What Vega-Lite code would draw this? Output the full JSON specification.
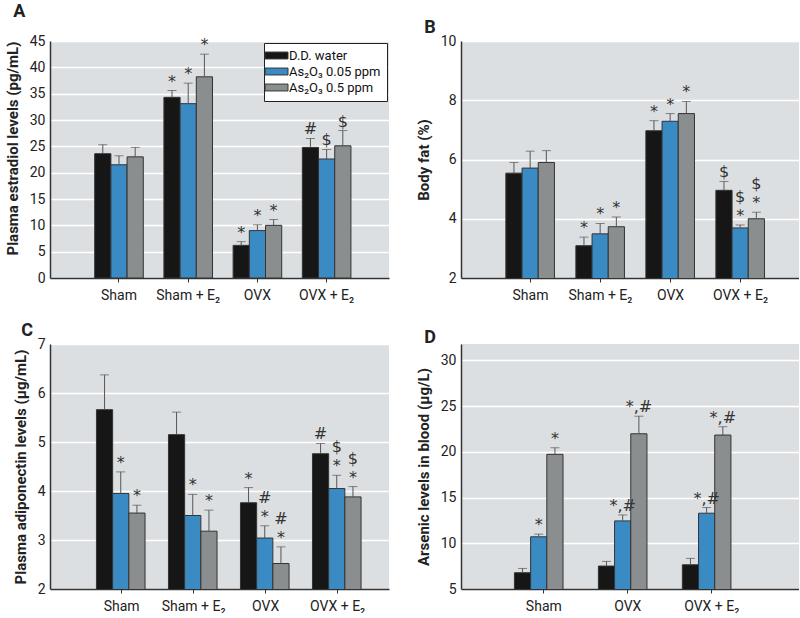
{
  "$schema": "https://vega.github.io/schema/vega-lite/v6.json",
  "padding": {"left": 5, "top": 3, "right": 0, "bottom": 0},
  "config": {
    "font": "Roboto",
    "view": {"fill": "#dcdfe1", "stroke": null},
    "axis": {"labelFont": "Roboto", "titleFont": "Roboto", "labelFontSize": 14, "labelColor": "#222", "labelOverlap": false, "titleFontSize": 15, "titleFontWeight": "bold", "titleColor": "#222", "domainColor": "#333", "domainWidth": 1.5, "gridColor": "#ffffff", "gridWidth": 1.5},
    "axisX": {"grid": false, "ticks": true, "tickColor": "#333", "tickSize": 4, "labelPadding": 6, "labelAngle": 0},
    "axisY": {"ticks": false, "labelPadding": 5, "grid": true, "titlePadding": 9},
    "title": {"anchor": "start", "frame": "bounds", "font": "Roboto", "fontSize": 18, "fontWeight": "bold", "color": "#222", "offset": -3},
    "text": {"font": "DejaVu Sans"}
  },
  "datasets": {
    "a": [
      {"g": "Sham", "t": "D.D. water", "v": 23.6, "hi": 25.3, "a1": "", "a2": ""},
      {"g": "Sham", "t": "As₂O₃ 0.05 ppm", "v": 21.5, "hi": 23.2, "a1": "", "a2": ""},
      {"g": "Sham", "t": "As₂O₃ 0.5 ppm", "v": 23.0, "hi": 24.8, "a1": "", "a2": ""},
      {"g": "Sham + E₂", "t": "D.D. water", "v": 34.3, "hi": 35.6, "a1": "*", "a2": ""},
      {"g": "Sham + E₂", "t": "As₂O₃ 0.05 ppm", "v": 33.1, "hi": 37.0, "a1": "*", "a2": ""},
      {"g": "Sham + E₂", "t": "As₂O₃ 0.5 ppm", "v": 38.2, "hi": 42.5, "a1": "*", "a2": ""},
      {"g": "OVX", "t": "D.D. water", "v": 6.2, "hi": 6.9, "a1": "*", "a2": ""},
      {"g": "OVX", "t": "As₂O₃ 0.05 ppm", "v": 9.0, "hi": 10.1, "a1": "*", "a2": ""},
      {"g": "OVX", "t": "As₂O₃ 0.5 ppm", "v": 10.0, "hi": 11.1, "a1": "*", "a2": ""},
      {"g": "OVX + E₂", "t": "D.D. water", "v": 24.8, "hi": 26.5, "a1": "#", "a2": ""},
      {"g": "OVX + E₂", "t": "As₂O₃ 0.05 ppm", "v": 22.6, "hi": 24.4, "a1": "$", "a2": ""},
      {"g": "OVX + E₂", "t": "As₂O₃ 0.5 ppm", "v": 25.1, "hi": 28.0, "a1": "$", "a2": ""}
    ],
    "b": [
      {"g": "Sham", "t": "D.D. water", "v": 5.54, "hi": 5.90, "a1": "", "a2": ""},
      {"g": "Sham", "t": "As₂O₃ 0.05 ppm", "v": 5.71, "hi": 6.28, "a1": "", "a2": ""},
      {"g": "Sham", "t": "As₂O₃ 0.5 ppm", "v": 5.90, "hi": 6.30, "a1": "", "a2": ""},
      {"g": "Sham + E₂", "t": "D.D. water", "v": 3.09, "hi": 3.38, "a1": "*", "a2": ""},
      {"g": "Sham + E₂", "t": "As₂O₃ 0.05 ppm", "v": 3.49, "hi": 3.84, "a1": "*", "a2": ""},
      {"g": "Sham + E₂", "t": "As₂O₃ 0.5 ppm", "v": 3.73, "hi": 4.06, "a1": "*", "a2": ""},
      {"g": "OVX", "t": "D.D. water", "v": 6.97, "hi": 7.31, "a1": "*", "a2": ""},
      {"g": "OVX", "t": "As₂O₃ 0.05 ppm", "v": 7.29, "hi": 7.55, "a1": "*", "a2": ""},
      {"g": "OVX", "t": "As₂O₃ 0.5 ppm", "v": 7.55, "hi": 7.96, "a1": "*", "a2": ""},
      {"g": "OVX + E₂", "t": "D.D. water", "v": 4.96, "hi": 5.26, "a1": "$", "a2": ""},
      {"g": "OVX + E₂", "t": "As₂O₃ 0.05 ppm", "v": 3.69, "hi": 3.79, "a1": "*", "a2": "$"},
      {"g": "OVX + E₂", "t": "As₂O₃ 0.5 ppm", "v": 4.00, "hi": 4.22, "a1": "*", "a2": "$"}
    ],
    "c": [
      {"g": "Sham", "t": "D.D. water", "v": 5.66, "hi": 6.37, "a1": "", "a2": ""},
      {"g": "Sham", "t": "As₂O₃ 0.05 ppm", "v": 3.95, "hi": 4.39, "a1": "*", "a2": ""},
      {"g": "Sham", "t": "As₂O₃ 0.5 ppm", "v": 3.55, "hi": 3.71, "a1": "*", "a2": ""},
      {"g": "Sham + E₂", "t": "D.D. water", "v": 5.15, "hi": 5.61, "a1": "", "a2": ""},
      {"g": "Sham + E₂", "t": "As₂O₃ 0.05 ppm", "v": 3.50, "hi": 3.93, "a1": "*", "a2": ""},
      {"g": "Sham + E₂", "t": "As₂O₃ 0.5 ppm", "v": 3.18, "hi": 3.61, "a1": "*", "a2": ""},
      {"g": "OVX", "t": "D.D. water", "v": 3.76, "hi": 4.07, "a1": "*", "a2": ""},
      {"g": "OVX", "t": "As₂O₃ 0.05 ppm", "v": 3.04, "hi": 3.29, "a1": "*", "a2": "#"},
      {"g": "OVX", "t": "As₂O₃ 0.5 ppm", "v": 2.52, "hi": 2.86, "a1": "*", "a2": "#"},
      {"g": "OVX + E₂", "t": "D.D. water", "v": 4.76, "hi": 4.97, "a1": "#", "a2": ""},
      {"g": "OVX + E₂", "t": "As₂O₃ 0.05 ppm", "v": 4.05, "hi": 4.32, "a1": "*", "a2": "$"},
      {"g": "OVX + E₂", "t": "As₂O₃ 0.5 ppm", "v": 3.88, "hi": 4.09, "a1": "*", "a2": "$"}
    ],
    "d": [
      {"g": "Sham", "t": "D.D. water", "v": 6.78, "hi": 7.25, "a1": "", "a2": ""},
      {"g": "Sham", "t": "As₂O₃ 0.05 ppm", "v": 10.71, "hi": 11.0, "a1": "*", "a2": ""},
      {"g": "Sham", "t": "As₂O₃ 0.5 ppm", "v": 19.73, "hi": 20.45, "a1": "*", "a2": ""},
      {"g": "OVX", "t": "D.D. water", "v": 7.51, "hi": 8.02, "a1": "", "a2": ""},
      {"g": "OVX", "t": "As₂O₃ 0.05 ppm", "v": 12.45, "hi": 13.1, "a1": "*,#", "a2": ""},
      {"g": "OVX", "t": "As₂O₃ 0.5 ppm", "v": 21.98, "hi": 23.9, "a1": "*,#", "a2": ""},
      {"g": "OVX + E₂", "t": "D.D. water", "v": 7.65, "hi": 8.35, "a1": "", "a2": ""},
      {"g": "OVX + E₂", "t": "As₂O₃ 0.05 ppm", "v": 13.29, "hi": 13.91, "a1": "*,#", "a2": ""},
      {"g": "OVX + E₂", "t": "As₂O₃ 0.5 ppm", "v": 21.84, "hi": 22.75, "a1": "*,#", "a2": ""}
    ]
  },
  "columns": 2,
  "spacing": {"row": 66, "column": 72},
  "bounds": "flush",
  "resolve": {"scale": {"color": "independent"}, "legend": {"color": "independent"}},
  "concat": [
    {
      "width": 339, "height": 237,
      "title": {"text": "A", "dx": 8},
      "data": {"name": "a"},
      "encoding": {
        "x": {"field": "g", "type": "nominal", "sort": ["Sham", "Sham + E₂", "OVX", "OVX + E₂"], "scale": {"paddingInner": 0.298, "paddingOuter": 0.598, "align": 0.54}, "title": null},
        "xOffset": {"field": "t", "type": "nominal", "sort": ["D.D. water", "As₂O₃ 0.05 ppm", "As₂O₃ 0.5 ppm"], "scale": {"paddingInner": 0, "paddingOuter": 0}}
      },
      "layer": [
        {"mark": {"type": "bar", "stroke": "#333", "strokeWidth": 1, "clip": true},
         "encoding": {
           "y": {"field": "v", "type": "quantitative", "scale": {"domain": [0, 45], "nice": false}, "axis": {"values": [0, 5, 10, 15, 20, 25, 30, 35, 40, 45], "titleAnchor": "end"}, "title": "Plasma estradiol levels (pg/mL)"},
           "color": {"field": "t", "type": "nominal", "scale": {"domain": ["D.D. water", "As₂O₃ 0.05 ppm", "As₂O₃ 0.5 ppm"], "range": ["#161616", "#3a8bc4", "#8b8e8f"]},
             "legend": {"title": null, "orient": "top-right", "offset": 2, "fillColor": "#ffffff", "strokeColor": "#222", "padding": 6, "symbolType": "M-2,-0.6H2V0.6H-2Z", "symbolSize": 132, "symbolStrokeColor": "#333", "symbolStrokeWidth": 1, "labelFont": "Roboto", "labelFontSize": 13, "labelOffset": 6, "rowPadding": 2, "labelColor": "#111"}}
         }},
        {"mark": {"type": "rule", "color": "#555", "strokeWidth": 1},
         "encoding": {"y": {"field": "v", "type": "quantitative", "axis": {"values": [0, 5, 10, 15, 20, 25, 30, 35, 40, 45], "titleAnchor": "end"}, "title": "Plasma estradiol levels (pg/mL)"}, "y2": {"field": "hi"}}},
        {"mark": {"type": "tick", "color": "#555", "size": 9, "thickness": 1},
         "encoding": {"y": {"field": "hi", "type": "quantitative", "axis": {"values": [0, 5, 10, 15, 20, 25, 30, 35, 40, 45], "titleAnchor": "end"}, "title": "Plasma estradiol levels (pg/mL)"}}},
        {"mark": {"type": "text", "baseline": "alphabetic", "dy": -4, "fontSize": 16, "color": "#333"},
         "encoding": {"y": {"field": "hi", "type": "quantitative", "axis": {"values": [0, 5, 10, 15, 20, 25, 30, 35, 40, 45], "titleAnchor": "end"}, "title": "Plasma estradiol levels (pg/mL)"}, "text": {"field": "a1"}}},
        {"mark": {"type": "text", "baseline": "alphabetic", "dy": -23, "fontSize": 16, "color": "#333"},
         "encoding": {"y": {"field": "hi", "type": "quantitative", "axis": {"values": [0, 5, 10, 15, 20, 25, 30, 35, 40, 45], "titleAnchor": "end"}, "title": "Plasma estradiol levels (pg/mL)"}, "text": {"field": "a2"}}}
      ]
    },
    {
      "width": 338, "height": 237,
      "title": {"text": "B", "dx": 8},
      "data": {"name": "b"},
      "encoding": {
        "x": {"field": "g", "type": "nominal", "sort": ["Sham", "Sham + E₂", "OVX", "OVX + E₂"], "scale": {"paddingInner": 0.296, "paddingOuter": 0.562, "align": 0.57}, "title": null},
        "xOffset": {"field": "t", "type": "nominal", "sort": ["D.D. water", "As₂O₃ 0.05 ppm", "As₂O₃ 0.5 ppm"], "scale": {"paddingInner": 0, "paddingOuter": 0}}
      },
      "layer": [
        {"mark": {"type": "bar", "stroke": "#333", "strokeWidth": 1, "clip": true},
         "encoding": {
           "y": {"field": "v", "type": "quantitative", "scale": {"domain": [2, 10], "nice": false}, "axis": {"values": [2, 4, 6, 8, 10]}, "title": "Body fat (%)"},
           "color": {"field": "t", "type": "nominal", "scale": {"domain": ["D.D. water", "As₂O₃ 0.05 ppm", "As₂O₃ 0.5 ppm"], "range": ["#161616", "#3a8bc4", "#8b8e8f"]}, "legend": null}
         }},
        {"mark": {"type": "rule", "color": "#555", "strokeWidth": 1},
         "encoding": {"y": {"field": "v", "type": "quantitative", "axis": {"values": [2, 4, 6, 8, 10]}, "title": "Body fat (%)"}, "y2": {"field": "hi"}}},
        {"mark": {"type": "tick", "color": "#555", "size": 9, "thickness": 1},
         "encoding": {"y": {"field": "hi", "type": "quantitative", "axis": {"values": [2, 4, 6, 8, 10]}, "title": "Body fat (%)"}}},
        {"mark": {"type": "text", "baseline": "alphabetic", "dy": -4, "fontSize": 16, "color": "#333"},
         "encoding": {"y": {"field": "hi", "type": "quantitative", "axis": {"values": [2, 4, 6, 8, 10]}, "title": "Body fat (%)"}, "text": {"field": "a1"}}},
        {"mark": {"type": "text", "baseline": "alphabetic", "dy": -23, "fontSize": 16, "color": "#333"},
         "encoding": {"y": {"field": "hi", "type": "quantitative", "axis": {"values": [2, 4, 6, 8, 10]}, "title": "Body fat (%)"}, "text": {"field": "a2"}}}
      ]
    },
    {
      "width": 339, "height": 245,
      "title": {"text": "C", "dx": 8},
      "data": {"name": "c"},
      "encoding": {
        "x": {"field": "g", "type": "nominal", "sort": ["Sham", "Sham + E₂", "OVX", "OVX + E₂"], "scale": {"paddingInner": 0.3, "paddingOuter": 0.504, "align": 0.64}, "title": null},
        "xOffset": {"field": "t", "type": "nominal", "sort": ["D.D. water", "As₂O₃ 0.05 ppm", "As₂O₃ 0.5 ppm"], "scale": {"paddingInner": 0, "paddingOuter": 0}}
      },
      "layer": [
        {"mark": {"type": "bar", "stroke": "#333", "strokeWidth": 1, "clip": true},
         "encoding": {
           "y": {"field": "v", "type": "quantitative", "scale": {"domain": [2, 7], "nice": false}, "axis": {"values": [2, 3, 4, 5, 6, 7]}, "title": "Plasma adiponectin levels (µg/mL)"},
           "color": {"field": "t", "type": "nominal", "scale": {"domain": ["D.D. water", "As₂O₃ 0.05 ppm", "As₂O₃ 0.5 ppm"], "range": ["#161616", "#3a8bc4", "#8b8e8f"]}, "legend": null}
         }},
        {"mark": {"type": "rule", "color": "#555", "strokeWidth": 1},
         "encoding": {"y": {"field": "v", "type": "quantitative", "axis": {"values": [2, 3, 4, 5, 6, 7]}, "title": "Plasma adiponectin levels (µg/mL)"}, "y2": {"field": "hi"}}},
        {"mark": {"type": "tick", "color": "#555", "size": 9, "thickness": 1},
         "encoding": {"y": {"field": "hi", "type": "quantitative", "axis": {"values": [2, 3, 4, 5, 6, 7]}, "title": "Plasma adiponectin levels (µg/mL)"}}},
        {"mark": {"type": "text", "baseline": "alphabetic", "dy": -4, "fontSize": 16, "color": "#333"},
         "encoding": {"y": {"field": "hi", "type": "quantitative", "axis": {"values": [2, 3, 4, 5, 6, 7]}, "title": "Plasma adiponectin levels (µg/mL)"}, "text": {"field": "a1"}}},
        {"mark": {"type": "text", "baseline": "alphabetic", "dy": -23, "fontSize": 16, "color": "#333"},
         "encoding": {"y": {"field": "hi", "type": "quantitative", "axis": {"values": [2, 3, 4, 5, 6, 7]}, "title": "Plasma adiponectin levels (µg/mL)"}, "text": {"field": "a2"}}}
      ]
    },
    {
      "width": 338, "height": 245,
      "title": {"text": "D", "dx": 8},
      "data": {"name": "d"},
      "encoding": {
        "x": {"field": "g", "type": "nominal", "sort": ["Sham", "OVX", "OVX + E₂"], "scale": {"paddingInner": 0.3, "paddingOuter": 0.663, "align": 0.48}, "title": null},
        "xOffset": {"field": "t", "type": "nominal", "sort": ["D.D. water", "As₂O₃ 0.05 ppm", "As₂O₃ 0.5 ppm"], "scale": {"paddingInner": 0, "paddingOuter": 0}}
      },
      "layer": [
        {"mark": {"type": "bar", "stroke": "#333", "strokeWidth": 1, "clip": true},
         "encoding": {
           "y": {"field": "v", "type": "quantitative", "scale": {"domain": [5, 31.8], "nice": false}, "axis": {"values": [5, 10, 15, 20, 25, 30]}, "title": "Arsenic levels in blood (µg/L)"},
           "color": {"field": "t", "type": "nominal", "scale": {"domain": ["D.D. water", "As₂O₃ 0.05 ppm", "As₂O₃ 0.5 ppm"], "range": ["#161616", "#3a8bc4", "#8b8e8f"]}, "legend": null}
         }},
        {"mark": {"type": "rule", "color": "#555", "strokeWidth": 1},
         "encoding": {"y": {"field": "v", "type": "quantitative", "axis": {"values": [5, 10, 15, 20, 25, 30]}, "title": "Arsenic levels in blood (µg/L)"}, "y2": {"field": "hi"}}},
        {"mark": {"type": "tick", "color": "#555", "size": 9, "thickness": 1},
         "encoding": {"y": {"field": "hi", "type": "quantitative", "axis": {"values": [5, 10, 15, 20, 25, 30]}, "title": "Arsenic levels in blood (µg/L)"}}},
        {"mark": {"type": "text", "baseline": "alphabetic", "dy": -4, "fontSize": 16, "color": "#333"},
         "encoding": {"y": {"field": "hi", "type": "quantitative", "axis": {"values": [5, 10, 15, 20, 25, 30]}, "title": "Arsenic levels in blood (µg/L)"}, "text": {"field": "a1"}}},
        {"mark": {"type": "text", "baseline": "alphabetic", "dy": -23, "fontSize": 16, "color": "#333"},
         "encoding": {"y": {"field": "hi", "type": "quantitative", "axis": {"values": [5, 10, 15, 20, 25, 30]}, "title": "Arsenic levels in blood (µg/L)"}, "text": {"field": "a2"}}}
      ]
    }
  ]
}
